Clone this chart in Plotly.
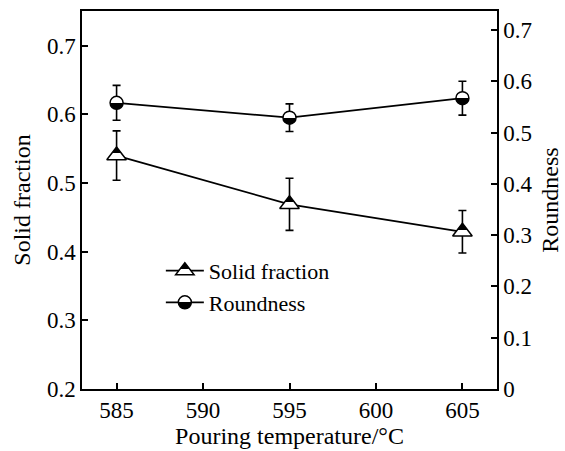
import plotly.graph_objects as go

temps = [585, 595, 605]
solid_fraction = [0.540, 0.469, 0.429]
solid_err = [0.036, 0.038, 0.031]
roundness = [0.558, 0.529, 0.567]
round_err = [0.034, 0.027, 0.033]

x_ticks = [585, 590, 595, 600, 605]
FONT = "Liberation Serif"

fig = go.Figure()
fig.add_trace(go.Scatter(
    x=temps, y=solid_fraction, name="Solid fraction", mode="lines+markers",
    line=dict(color="black", width=1.8),
    marker=dict(symbol="triangle-up", size=17, color="black",
                gradient=dict(type="vertical", color="white"),
                line=dict(color="black", width=1.5)),
    error_y=dict(type="data", array=solid_err, color="black", thickness=1.6, width=4),
    yaxis="y",
))
fig.add_trace(go.Scatter(
    x=temps, y=roundness, name="Roundness", mode="lines+markers",
    line=dict(color="black", width=1.8),
    marker=dict(symbol="circle", size=13, color="white",
                gradient=dict(type="vertical", color="black"),
                line=dict(color="black", width=1.5)),
    error_y=dict(type="data", array=round_err, color="black", thickness=1.6, width=4),
    yaxis="y2",
))

axis_common = dict(showline=True, linecolor="black", linewidth=1.5, ticks="inside",
                   ticklen=6, tickwidth=1.5, tickcolor="black", showgrid=False,
                   zeroline=False, automargin=False,
                   tickfont=dict(family=FONT, size=23, color="black"))
title_font = dict(family=FONT, size=24, color="black")

fig.update_layout(
    width=565, height=451,
    margin=dict(l=82, r=68, t=11, b=62),
    paper_bgcolor="white", plot_bgcolor="white",
    font=dict(family=FONT, color="black"),
    showlegend=True,
    legend=dict(x=0.19, y=0.368, xanchor="left", yanchor="top",
                bgcolor="rgba(0,0,0,0)", font=dict(family=FONT, size=22, color="black"),
                tracegroupgap=0, itemwidth=38),
    xaxis=dict(range=[583, 607], tickvals=x_ticks, mirror=True,
               title=dict(text="Pouring temperature/°C", font=title_font, standoff=3),
               **axis_common),
    yaxis=dict(range=[0.2, 0.7506], dtick=0.1, tick0=0.2, tickformat=".1f",
               title=dict(text="Solid fraction", font=title_font, standoff=10),
               **axis_common),
    yaxis2=dict(range=[0, 0.737], dtick=0.1, tick0=0, overlaying="y", side="right",
                title=dict(text="Roundness", font=title_font, standoff=10),
                **axis_common),
)

# make the vertical marker gradients two-tone (half-filled symbols)
post_js = """
function sharpen() {
  document.querySelectorAll('linearGradient').forEach(function(g) {
    var stops = g.querySelectorAll('stop');
    if (stops.length !== 2) return;
    var c0 = stops[0].getAttribute('stop-color');
    var c1 = stops[1].getAttribute('stop-color');
    var split = (c0.toLowerCase() === '#ffffff') ? 25 : 50;
    while (g.firstChild) g.removeChild(g.firstChild);
    [[0, c0], [split, c0], [split, c1], [100, c1]].forEach(function(s) {
      var st = document.createElementNS('http://www.w3.org/2000/svg', 'stop');
      st.setAttribute('offset', s[0] + '%');
      st.setAttribute('stop-color', s[1]);
      g.appendChild(st);
    });
  });
}
sharpen();
"""

fig.write_html("out.html", post_script=post_js)
